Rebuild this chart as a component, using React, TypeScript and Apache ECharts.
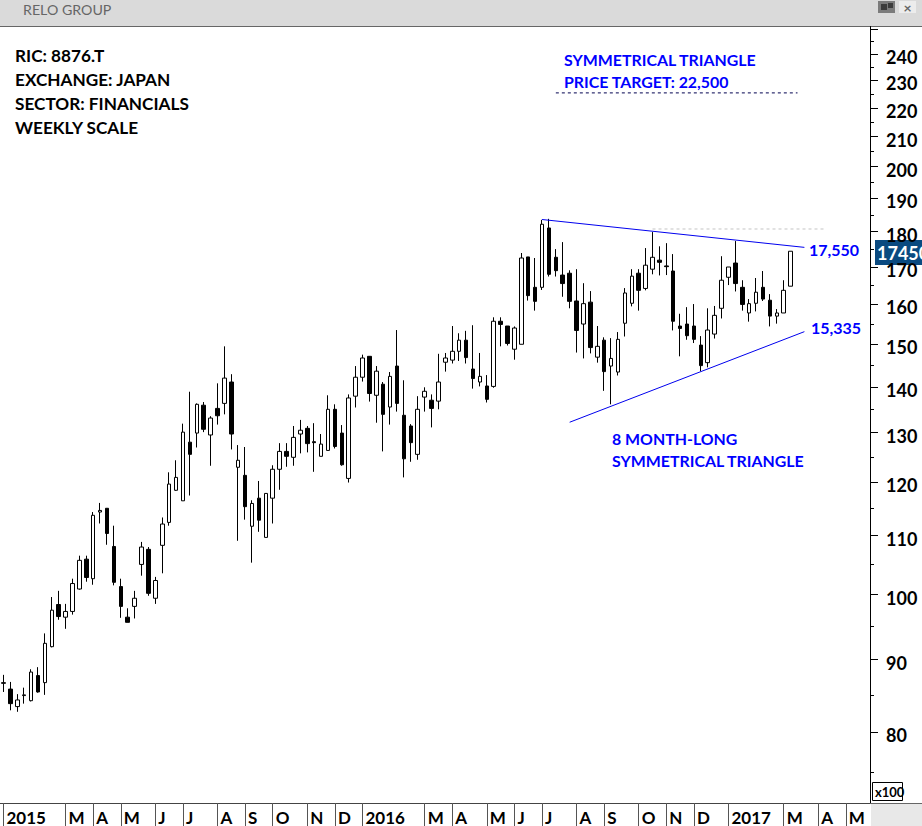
import React, { useEffect, useRef } from "react";
import * as echarts from "echarts";

// [open, close, low, high]
const candles: number[][] = [
[86.6,86.7,85.4,87.8],[85.8,83.8,82.9,86.8],[83.4,84.3,82.7,85.1],[84.9,85.0,83.8,86.0],[84.2,88.2,84.1,88.6],[87.7,85.4,85.3,88.9],[86.7,92.4,85.0,93.9],[91.9,97.5,91.8,99.6],[98.4,96.5,96.0,100.6],[96.4,97.3,94.6,98.5],
[97.3,101.8,96.8,102.6],[100.9,105.7,100.8,106.5],[105.9,102.8,102.1,106.5],[102.6,113.7,101.6,114.3],[114.3,114.6,112.2,116.0],[115.0,110.4,108.4,115.0],[108.1,102.0,101.5,111.8],[101.3,98.1,96.3,102.6],[96.4,95.6,95.6,97.8],[98.1,99.4,96.2,100.6],
[105.0,108.0,103.1,108.9],[107.6,100.2,99.8,108.0],[99.4,102.3,98.5,102.9],[108.3,112.1,103.5,113.3],[112.4,119.6,111.8,121.9],[118.4,120.9,118.3,124.3],[116.4,130.1,116.4,131.9],[128.0,125.5,117.4,138.9],[129.9,136.1,126.9,136.3],[135.9,130.7,130.1,136.6],
[129.5,133.1,123.2,133.5],[135.2,133.6,131.7,140.8],[136.3,142.0,133.9,149.5],[141.1,129.7,126.5,142.9],[122.9,124.3,109.1,127.4],[121.3,115.3,112.9,127.0],[111.7,115.9,105.3,116.5],[116.9,112.8,110.7,120.2],[109.7,117.8,109.7,117.8],[116.9,122.5,112.2,123.3],
[122.5,126.1,118.5,127.8],[126.1,125.1,123.0,127.8],[124.9,129.0,123.2,131.4],[129.7,130.5,125.7,132.7],[130.9,127.7,125.9,131.4],[128.1,127.9,122.0,132.0],[125.1,127.6,125.1,129.7],[126.3,135.0,126.3,138.1],[135.0,127.1,126.7,136.1],[129.9,123.4,123.2,131.6],
[120.7,137.5,119.9,138.3],[137.9,142.2,135.4,144.8],[142.2,146.7,141.2,147.5],[147.1,138.5,136.7,147.1],[138.1,143.6,132.1,144.8],[140.6,133.9,126.1,141.1],[135.5,142.4,131.7,143.4],[144.8,136.3,134.5,153.5],[133.7,124.6,120.9,141.5],[131.4,127.9,124.0,131.8],
[125.5,135.0,124.4,137.9],[137.7,139.0,134.5,139.9],[137.0,135.2,131.1,138.3],[136.8,141.1,135.0,147.7],[145.7,146.7,143.5,147.9],[146.2,148.3,145.4,154.5],[148.3,151.0,146.0,152.7],[151.0,146.8,145.4,153.3],[144.1,141.9,139.6,154.7],[141.1,142.4,140.1,147.9],
[140.2,137.2,136.5,142.7],[140.1,155.7,139.8,156.7],[155.7,154.9,149.5,156.7],[154.5,150.2,149.7,154.5],[148.8,154.0,146.3,154.4],[150.0,172.5,150.0,173.9],[172.8,162.3,161.0,172.8],[164.5,160.8,158.4,172.5],[164.5,182.2,163.8,183.5],[181.1,168.0,167.4,183.8],
[172.7,169.0,167.4,175.0],[167.8,165.5,162.0,177.0],[168.3,160.8,159.0,169.1],[160.9,153.4,148.0,169.4],[155.0,160.2,146.6,165.6],[160.6,149.2,147.8,163.5],[146.9,149.5,145.6,154.5],[151.0,143.5,139.1,151.7],[144.8,146.6,136.1,151.5],[143.4,151.2,142.6,153.0],
[155.2,163.0,151.9,164.3],[160.3,167.5,159.5,169.4],[168.3,163.7,158.4,169.4],[164.2,170.5,163.7,175.3],[169.4,172.7,168.0,179.9],[171.9,171.3,167.7,175.8],[170.3,170.1,167.8,176.7],[168.9,155.7,153.4,173.6],[154.5,153.9,147.1,157.6],[155.0,152.1,151.1,159.3],
[154.5,151.2,150.3,160.1],[149.8,144.9,143.6,152.0],[145.6,153.5,144.5,159.0],[152.5,157.2,151.4,159.6],[159.0,166.4,156.4,173.0],[167.2,170.0,165.1,170.0],[171.1,165.5,163.4,177.3],[164.5,160.0,158.4,166.4],[157.8,160.2,155.6,161.4],[160.3,163.2,158.2,167.0],
[164.5,161.4,160.9,168.9],[161.1,157.0,154.4,162.7],[157.0,157.8,155.1,158.8],[157.8,163.7,157.8,166.4],[164.8,174.4,164.8,174.4],
];

const slotCount = 126;
const monthIndex = [0,9,13,17,22,26,31,35,39,44,48,52,61,65,70,74,78,83,87,92,96,100,105,113,118,122];
const monthNames = ["2015","M","A","M","J","J","A","S","O","N","D","2016","M","A","M","J","J","A","S","O","N","D","2017","M","A","M"];
const categories: string[] = Array.from({ length: slotCount }, () => "");
monthIndex.forEach((ix, k) => { categories[ix] = monthNames[k]; });

const majorTicks = [80,90,100,110,120,130,140,150,160,170,180,190,200,210,220,230,240,250];
const minorTicks = [75,85,95,105,115,125,135,145,155,165,175,185,195,205,215,225,235,245];
const yLabels = [80,90,100,110,120,130,140,150,160,170,180,190,200,210,220,230,240];

const upperTrend = [[78,183.6],[116,175.5]];
const lowerTrend = [[82,132.2],[116,153.1]];
const resistance = [[94,180.8],[119,180.8]];
const targetLine = [[80,225.4],[115,225.4]];

const infoLines = ["RIC: 8876.T","EXCHANGE: JAPAN","SECTOR: FINANCIALS","WEEKLY SCALE"];

const FONT = "Lato";
const BLUE = "#0000ff";
const text = (s: string, x: number, y: number, size: number, fill: string, weight: string | number = 700) => ({
  type: "text", x, y, silent: true,
  style: { text: s, fill, font: `${weight} ${size}px ${FONT}`, verticalAlign: "middle", align: "left" },
});
const rect = (x: number, y: number, width: number, height: number, fill: string, stroke?: string) => ({
  type: "rect", silent: true, shape: { x, y, width, height }, style: { fill, stroke, lineWidth: stroke ? 1 : 0 },
});

const trendSeries = (name: string, data: number[][], color: string, lineType: any = "solid") => ({
  type: "line", name, data, showSymbol: false, symbol: "none", silent: true, z: 5,
  lineStyle: { color, width: 1, type: lineType },
});

export default function App() {
  const ref = useRef<HTMLDivElement>(null);
  useEffect(() => {
    const chart = echarts.init(ref.current!, undefined, { renderer: "svg" });
    chart.setOption({
      animation: false,
      backgroundColor: "#ffffff",
      grid: { left: 0, right: 52, top: 26.5, bottom: 23 },
      xAxis: {
        type: "category", data: categories, boundaryGap: true,
        axisLine: { lineStyle: { color: "#444", width: 1 } },
        axisTick: { show: true, alignWithLabel: true, length: 23, lineStyle: { color: "#555" }, interval: (_: number, v: string) => v !== "" },
        axisLabel: {
          interval: (_: number, v: string) => v !== "", hideOverlap: false, showMinLabel: true, showMaxLabel: true,
          align: "left", margin: 6, color: "#000", fontFamily: FONT, fontWeight: 700, fontSize: 17, lineHeight: 16, padding: [0, 0, 0, 3],
        },
        splitLine: { show: false },
      },
      yAxis: [
        {
          type: "log", logBase: 10, min: 71.34, max: 251, position: "right",
          axisLine: { show: true, onZero: false, lineStyle: { color: "#000", width: 1 } },
          axisTick: { show: true, length: 8, lineStyle: { color: "#000" }, customValues: majorTicks },
          axisLabel: { margin: 16, color: "#000", fontFamily: FONT, fontWeight: 700, fontSize: 18, verticalAlign: "top", lineHeight: 6, customValues: yLabels, formatter: (v: number) => String(Math.round(v)) },
          splitLine: { show: false }, minorTick: { show: false },
        },
        {
          type: "log", logBase: 10, min: 71.34, max: 251, position: "right",
          axisLine: { show: false },
          axisTick: { show: true, length: 4, lineStyle: { color: "#000" }, customValues: minorTicks },
          axisLabel: { show: false }, splitLine: { show: false },
        },
      ],
      series: [
        {
          type: "candlestick", name: "RELO GROUP", data: candles, barWidth: 4, yAxisIndex: 0,
          itemStyle: { color: "#ffffff", color0: "#000000", borderColor: "#000000", borderColor0: "#000000", borderWidth: 1 },
          z: 3,
        },
        trendSeries("Upper trendline", upperTrend, "#0000ee"),
        trendSeries("Lower trendline", lowerTrend, "#0000ee"),
        trendSeries("High", resistance, "#c4c4c4", [3, 3]),
        trendSeries("Price target", targetLine, "#000050", [3, 3]),
      ],
      graphic: { elements: [
        rect(0, 0, 922, 26, "#dadada"),
        rect(0, 26, 922, 1, "#666666"),
        text("RELO GROUP", 23, 9.5, 14.2, "#666666", 400),
        rect(878, 1, 17, 12, "#7b7b7b"),
        rect(881, 4, 6, 6, "#3c3c3c"),
        rect(888, 3, 5, 5, "#3c3c3c"),
        rect(899, 1, 17, 12, "#ececec"),
        text("×", 903.5, 7, 14, "#666666"),
        ...infoLines.map((s, i) => text(s, 15, 55.5 + i * 24, 17.2, "#000000")),
        text("SYMMETRICAL TRIANGLE", 564, 59.5, 15.9, BLUE),
        text("PRICE TARGET: 22,500", 564, 81, 15.9, BLUE),
        text("8 MONTH-LONG", 612, 438, 15.9, BLUE),
        text("SYMMETRICAL TRIANGLE", 612, 460, 15.9, BLUE),
        text("17,550", 809, 249.5, 16, BLUE),
        text("15,335", 811, 327, 16, BLUE),
        rect(875, 240, 47, 25, "#0a4a80"),
        text("17450", 877, 253, 18, "#ffffff"),
        rect(872.5, 782.5, 30, 18, "#ffffff", "#000000"),
        text("x100", 875, 792, 13, "#000000"),
        rect(871, 804, 51, 22, "#e8e8e8"),
        rect(870.5, 803, 51.5, 1, "#666666"),
      ] },
    });
    return () => chart.dispose();
  }, []);
  return <div ref={ref} style={{ position: "fixed", left: 0, top: 0, width: 922, height: 826, overflow: "hidden" }} />;
}
